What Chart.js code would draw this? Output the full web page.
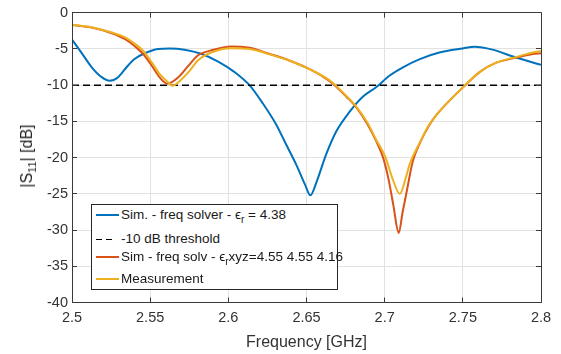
<!DOCTYPE html>
<html>
<head>
<meta charset="utf-8">
<script src="https://cdn.jsdelivr.net/npm/chart.js@4"></script>
<style>
    body { margin: 0; background: #fff; }
    #wrap { position: relative; width: 561px; height: 354px; font-family: "Liberation Sans", Arial, sans-serif; color: #262626; }
    #ytitle {
        position: absolute; left: 27px; top: 156px; white-space: nowrap;
        font-size: 16px; line-height: 20px;
        transform: translate(-50%, -50%) rotate(-90deg);
    }
    #ytitle sub { font-size: 11px; vertical-align: -4px; line-height: 0; }
    #legend {
        position: absolute; left: 91px; top: 204px; width: 245px; height: 84px;
        border: 1px solid #262626; background: #fff;
    }
    .row { position: absolute; left: 0; height: 18px; width: 100%; }
    .sample { position: absolute; left: 4px; top: 8px; width: 23px; height: 2px; }
    .dash { position: absolute; top: 9px; width: 6px; height: 1px; background: #000; }
    .label { position: absolute; left: 29px; top: 0; line-height: 18px; font-size: 13.5px; white-space: nowrap; color: #1a1a1a; }
    .label sub { font-size: 10px; vertical-align: -4px; line-height: 0; }
</style>
</head>
<body>
<div id="wrap">
    <canvas id="chart" width="561" height="354"></canvas>
    <div id="ytitle">|S<sub>11</sub>| [dB]</div>
    <div id="legend">
        <div class="row" style="top:1px"><div class="sample" style="background:#0072BD"></div><span class="label">Sim. - freq solver - ϵ<sub>r</sub> = 4.38</span></div>
        <div class="row" style="top:25px"><div class="dash" style="left:4px"></div><div class="dash" style="left:14px"></div><span class="label">-10 dB threshold</span></div>
        <div class="row" style="top:43px"><div class="sample" style="background:#D95319"></div><span class="label">Sim - freq solv - ϵ<sub>r</sub>xyz=4.55 4.55 4.16</span></div>
        <div class="row" style="top:65px"><div class="sample" style="background:#EDB120"></div><span class="label">Measurement</span></div>
    </div>
</div>
<script>
// Sim. - freq solver, eps_r = 4.38
const freqSim = [2.500, 2.506, 2.5125, 2.519, 2.524, 2.5295, 2.535, 2.540, 2.5465, 2.555, 2.5625, 2.572,
    2.583, 2.5935, 2.604, 2.6135, 2.622, 2.6305, 2.637, 2.6435, 2.649, 2.6525, 2.6565, 2.6625, 2.669,
    2.6775, 2.686, 2.6945, 2.703, 2.712, 2.7225, 2.735, 2.750, 2.7575, 2.769, 2.780, 2.7905, 2.800];
const s11Sim = [-3.7, -5.5, -7.5, -8.9, -9.4, -8.9, -7.5, -6.4, -5.6, -5.0, -4.93, -5.1,
    -5.7, -6.75, -8.2, -10.0, -12.5, -15.4, -18.2, -21.0, -23.7, -25.2, -23.3, -19.6, -16.4,
    -13.7, -11.6, -10.3, -8.7, -7.5, -6.4, -5.5, -4.93, -4.7, -5.1, -5.9, -6.6, -7.2];

// Sim - freq solv, eps_r xyz = 4.55 4.55 4.16
const freqXyz = [2.500, 2.5125, 2.525, 2.534, 2.540, 2.5455, 2.551, 2.556, 2.561, 2.568, 2.5745, 2.5805,
    2.589, 2.602, 2.6135, 2.6265, 2.639, 2.652, 2.6625, 2.668, 2.6755, 2.682, 2.689, 2.6945, 2.699,
    2.7025, 2.7055, 2.709, 2.7115, 2.7138, 2.718, 2.7225, 2.7283, 2.7335, 2.7372, 2.7458, 2.7525, 2.7607, 2.7714, 2.7842, 2.7948, 2.800];
const s11Xyz = [-1.7, -2.05, -2.8, -3.65, -4.6, -5.7, -7.3, -8.9, -9.8, -8.9, -7.3, -5.9,
    -5.2, -4.66, -4.85, -5.7, -6.6, -7.8, -9.1, -10.0, -11.6, -13.1, -15.4, -17.7, -20.0,
    -23.0, -26.5, -30.4, -27.5, -25.0, -20.5, -18.0, -15.6, -14.0, -13.1, -11.2, -9.8, -8.2, -6.9, -6.2, -5.7, -5.6];

// Measurement
const freqMeas = [2.500, 2.5125, 2.525, 2.534, 2.540, 2.5455, 2.551, 2.556, 2.5615, 2.5643, 2.568, 2.5745,
    2.5805, 2.589, 2.602, 2.6135, 2.6265, 2.639, 2.652, 2.6625, 2.668, 2.6755, 2.682, 2.689, 2.6945,
    2.7006, 2.705, 2.7097, 2.7135, 2.716, 2.7225, 2.7283, 2.7335, 2.7372, 2.7458, 2.7525, 2.7607, 2.7714, 2.7842, 2.7948, 2.800];
const s11Meas = [-1.65, -2.0, -2.7, -3.4, -4.25, -5.25, -6.85, -8.45, -9.6, -10.1, -9.6, -8.2,
    -6.6, -5.5, -4.9, -5.0, -5.75, -6.6, -7.8, -9.0, -9.9, -11.5, -13.0, -15.2, -17.5,
    -20.0, -22.9, -25.0, -22.8, -20.9, -17.9, -15.5, -14.0, -13.1, -11.2, -9.8, -8.2, -6.9, -6.1, -5.5, -5.3];

// -10 dB threshold
const freqThreshold = [2.5, 2.8];
const s11Threshold = [-10, -10];

const toPoints = (xs, ys) => xs.map((x, i) => ({ x, y: ys[i] }));

const axisColor = '#3a3a3a';
const fontFamily = '"Liberation Sans", Arial, sans-serif';

// Box around plot with inward tick marks (MATLAB style)
const boxPlugin = {
    id: 'box',
    afterDatasetsDraw(chart) {
        const { ctx, chartArea: a, scales } = chart;
        const al = p => Math.round(p - 0.5) + 0.5;
        ctx.save();
        ctx.strokeStyle = axisColor;
        ctx.lineWidth = 1;
        ctx.beginPath();
        ctx.rect(al(a.left), al(a.top), al(a.right) - al(a.left), al(a.bottom) - al(a.top));
        scales.x.ticks.forEach(t => {
            const px = al(scales.x.getPixelForValue(t.value));
            ctx.moveTo(px, a.bottom); ctx.lineTo(px, a.bottom - 5);
            ctx.moveTo(px, a.top); ctx.lineTo(px, a.top + 5);
        });
        scales.y.ticks.forEach(t => {
            const py = al(scales.y.getPixelForValue(t.value));
            ctx.moveTo(a.left, py); ctx.lineTo(a.left + 5, py);
            ctx.moveTo(a.right, py); ctx.lineTo(a.right - 5, py);
        });
        ctx.stroke();
        ctx.restore();
    }
};

const lineStyle = {
    fill: false,
    pointRadius: 0,
    borderWidth: 2,
    cubicInterpolationMode: 'monotone'
};

new Chart(document.getElementById('chart').getContext('2d'), {
    type: 'line',
    data: {
        datasets: [
            { ...lineStyle, label: 'Sim. - freq solver', data: toPoints(freqSim, s11Sim), borderColor: '#0072BD', order: 4 },
            { ...lineStyle, label: '-10 dB threshold', data: toPoints(freqThreshold, s11Threshold), borderColor: '#000', borderWidth: 1.5, borderDash: [7, 4], order: 3 },
            { ...lineStyle, label: 'Sim - freq solv xyz', data: toPoints(freqXyz, s11Xyz), borderColor: '#D95319', order: 2 },
            { ...lineStyle, label: 'Measurement', data: toPoints(freqMeas, s11Meas), borderColor: '#EDB120', order: 1 }
        ]
    },
    options: {
        responsive: false,
        animation: false,
        layout: { padding: { left: 0, right: 20, top: 10.5, bottom: 0 } },
        plugins: { legend: { display: false }, tooltip: { enabled: false } },
        scales: {
            x: {
                type: 'linear',
                min: 2.5,
                max: 2.8,
                afterFit: scale => { scale.height = 51.5; },
                border: { display: false },
                grid: { color: '#e2e2e2', drawTicks: false },
                ticks: {
                    stepSize: 0.05,
                    autoSkip: false,
                    maxRotation: 0,
                    padding: 7,
                    color: '#333',
                    font: { family: fontFamily, size: 14.5 },
                    callback: v => String(+v.toFixed(2))
                },
                title: {
                    display: true,
                    text: 'Frequency [GHz]',
                    color: '#333',
                    font: { family: fontFamily, size: 16 },
                    padding: { top: 0, bottom: 2 }
                }
            },
            y: {
                min: -40,
                max: 0,
                afterFit: scale => { scale.width = 72; },
                border: { display: false },
                grid: { color: '#e2e2e2', drawTicks: false },
                ticks: {
                    stepSize: 5,
                    padding: 4,
                    color: '#333',
                    font: { family: fontFamily, size: 14.5 },
                    callback: v => String(v)
                }
            }
        }
    },
    plugins: [boxPlugin]
});
</script>
</body>
</html>
